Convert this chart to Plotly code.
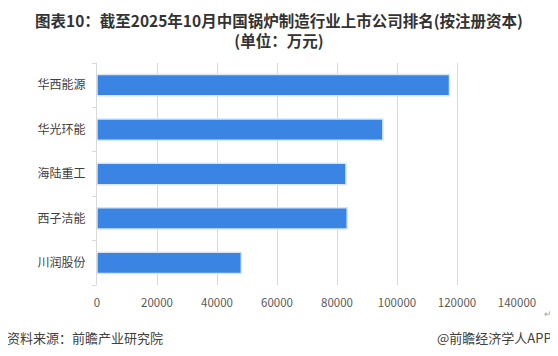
import plotly.graph_objects as go

companies = ["华西能源", "华光环能", "海陆重工", "西子洁能", "川润股份"]
capital = [117500, 95300, 83000, 83400, 48100]
x_ticks = [0, 20000, 40000, 60000, 80000, 100000, 120000, 140000]

title_line1 = "图表10：截至2025年10月中国锅炉制造行业上市公司排名(按注册资本)"
title_line2 = "(单位：万元)"
source_text = "资料来源：前瞻产业研究院"
brand_text = "@前瞻经济学人APP"

FONT = "Noto Sans CJK SC"

# page body has an 8px margin: figure drawn at (8, 8)
PL, PR, PT, PB = 89, 41, 55, 71
W, H = 550, 348
PW = W - PL - PR  # 420
PH = H - PT - PB  # 222
OFF = 8


def px_x(x):
    return (x - OFF - PL) / PW


def px_y(y):
    return (H - PB - (y - OFF)) / PH


fig = go.Figure(
    go.Bar(
        x=capital,
        y=companies,
        orientation="h",
        marker=dict(color="#3a84e4", line=dict(color="#d6e6f7", width=1.5)),
        width=0.48,
    )
)

fig.update_layout(
    width=W,
    height=H,
    margin=dict(l=PL, r=PR, t=PT, b=PB),
    paper_bgcolor="white",
    plot_bgcolor="white",
    showlegend=False,
    font=dict(family=FONT, color="#404040"),
    xaxis=dict(
        range=[0, 140000],
        tickvals=x_ticks,
        ticktext=[str(v) for v in x_ticks],
        showgrid=True,
        gridcolor="#d9d9d9",
        gridwidth=1,
        zeroline=False,
        showline=False,
        ticks="",
        tickfont=dict(size=11.5, color="#595959", family=FONT),
        ticklabelstandoff=9,
    ),
    yaxis=dict(
        categoryorder="array",
        categoryarray=companies[::-1],
        showline=True,
        linecolor="#d9d9d9",
        linewidth=1,
        ticks="outside",
        tickson="boundaries",
        ticklen=4,
        tickcolor="#d9d9d9",
        tickfont=dict(size=12, color="#404040", family=FONT),
        ticklabelstandoff=8,
        showgrid=False,
    ),
    annotations=[
        dict(
            text="<b>" + title_line1 + "<br>" + title_line2 + "</b>",
            xref="paper", yref="paper",
            x=px_x(278.5), y=px_y(29.5), xanchor="center", yanchor="middle",
            align="center", showarrow=False,
            font=dict(size=15.5, color="#333333", family=FONT),
        ),
        dict(
            text=source_text, xref="paper", yref="paper", x=px_x(5), y=px_y(337),
            xanchor="left", yanchor="middle", showarrow=False,
            font=dict(size=13, color="#404040", family=FONT),
        ),
        dict(
            text=brand_text, xref="paper", yref="paper", x=px_x(554), y=px_y(337),
            xanchor="right", yanchor="middle", showarrow=False,
            font=dict(size=13, color="#404040", family=FONT),
        ),
        dict(
            text="↵", xref="paper", yref="paper", x=px_x(554), y=px_y(313),
            xanchor="right", yanchor="middle", showarrow=False,
            font=dict(size=9, color="#a0a0a0", family=FONT),
        ),
    ],
)

fig.write_html("out.html")
